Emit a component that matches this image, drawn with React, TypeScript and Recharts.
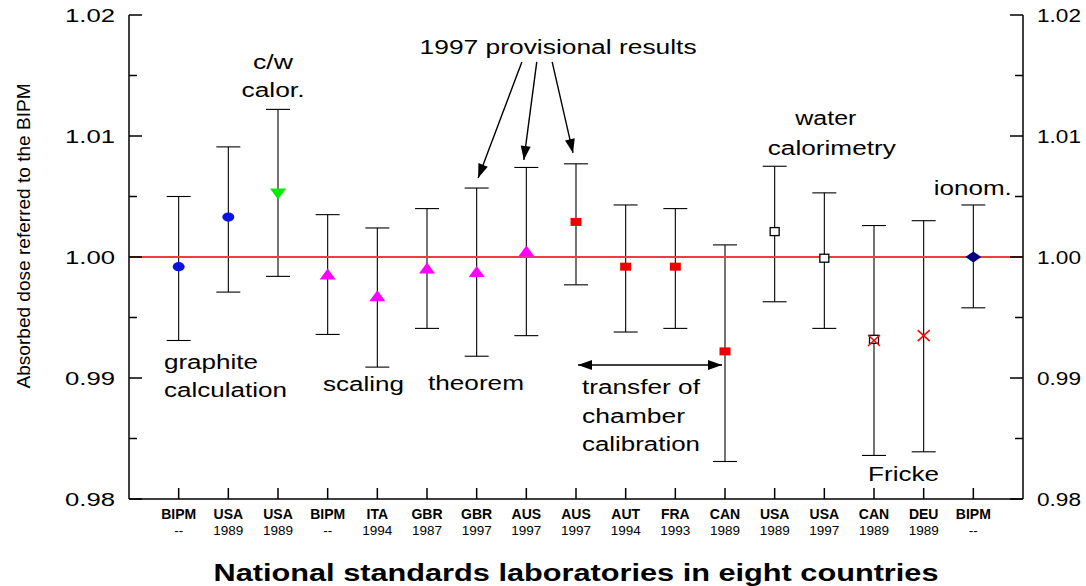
import React from 'react'
import {
  ComposedChart, Scatter, ErrorBar, XAxis, YAxis, ReferenceLine, ReferenceDot, Label,
} from 'recharts'

// Laboratories, in the order they are drawn along the x axis
const labs = ['BIPM', 'USA', 'USA', 'BIPM', 'ITA', 'GBR', 'GBR', 'AUS', 'AUS', 'AUT', 'FRA', 'CAN', 'USA', 'USA', 'CAN', 'DEU', 'BIPM']
const years = ['--', '1989', '1989', '--', '1994', '1987', '1997', '1997', '1997', '1994', '1993', '1989', '1989', '1997', '1989', '1989', '--']
// method of each result -> marker
const kinds = ['circle', 'circle', 'triDown', 'triUp', 'triUp', 'triUp', 'triUp', 'triUp', 'square', 'square', 'square', 'square', 'open', 'open', 'open', 'cross', 'diamond']

// ratio to BIPM and the ends of the uncertainty bars
const ratios = [0.9992, 1.0033, 1.0052, 0.9986, 0.9968, 0.9991, 0.9988, 1.0005, 1.0029, 0.9992, 0.9992, 0.9922, 1.0021, 0.9999, 0.9932, 0.9935, 1.0]
const lower = [0.9931, 0.9971, 0.9984, 0.9936, 0.9909, 0.9941, 0.9918, 0.9935, 0.9977, 0.9938, 0.9941, 0.9831, 0.9963, 0.9941, 0.9836, 0.9839, 0.9958]
const upper = [1.005, 1.0091, 1.0122, 1.0035, 1.0024, 1.004, 1.0057, 1.0074, 1.0077, 1.0043, 1.004, 1.001, 1.0075, 1.0053, 1.0026, 1.003, 1.0043]

// second (Fricke) result for CAN 1989
const extraCrossPos = [15]
const extraCrossRatio = [0.9931]

const yTicks = [0.98, 0.985, 0.99, 0.995, 1.0, 1.005, 1.01, 1.015, 1.02]
const yMajor = [0.98, 0.99, 1.0, 1.01, 1.02]
const xTicks = labs.map((_, i) => i + 1)

const FONT = '"Liberation Sans", Arial, sans-serif'

const rows = ratios.map((r, i) => ({ x: i + 1, y: r, err: [r - lower[i], upper[i] - r] }))
const byKind = (k: string) => rows.filter((p) => kinds[p.x - 1] === k)
const extraCross = extraCrossPos.map((x, i) => ({ x, y: extraCrossRatio[i] }))

const notes = [
  { t: 'c/w', x: 2.9, y: 1.01612, a: 'middle', len: 40 },
  { t: 'calor.', x: 2.9, y: 1.0138, a: 'middle', len: 63 },
  { t: '1997 provisional results', x: 8.64, y: 1.01736, a: 'middle', len: 277 },
  { t: 'water', x: 14.03, y: 1.01149, a: 'middle', len: 61 },
  { t: 'calorimetry', x: 14.15, y: 1.00901, a: 'middle', len: 128 },
  { t: 'ionom.', x: 16.99, y: 1.0057, a: 'middle', len: 78 },
  { t: 'graphite', x: 0.705, y: 0.99132, a: 'start', len: 94 },
  { t: 'calculation', x: 0.705, y: 0.98901, a: 'start', len: 123 },
  { t: 'scaling', x: 3.906, y: 0.9895, a: 'start', len: 81 },
  { t: 'theorem', x: 6.02, y: 0.98959, a: 'start', len: 96 },
  { t: 'transfer of', x: 9.12, y: 0.98926, a: 'start', len: 118 },
  { t: 'chamber', x: 9.12, y: 0.98686, a: 'start', len: 103 },
  { t: 'calibration', x: 9.12, y: 0.98455, a: 'start', len: 118 },
  { t: 'Fricke', x: 14.88, y: 0.98207, a: 'start', len: 71 },
]

const arrows = [
  { from: [7.91, 1.01612], to: [7.03, 1.00653], both: false },
  { from: [8.21, 1.01612], to: [7.95, 1.00802], both: false },
  { from: [8.52, 1.01612], to: [8.94, 1.0086], both: false },
  { from: [9.04, 0.99107], to: [11.94, 0.99107], both: true },
]

function head(x1: number, y1: number, x2: number, y2: number) {
  const a = Math.atan2(y2 - y1, x2 - x1)
  const L = 14, W = 5
  const bx = x2 - L * Math.cos(a), by = y2 - L * Math.sin(a)
  const px = -Math.sin(a) * W, py = Math.cos(a) * W
  return `${x2},${y2} ${bx + px},${by + py} ${bx - px},${by - py}`
}

const arrowShape = (both: boolean) => (p: any) => {
  const { x1, y1, x2, y2 } = p
  return (
    <g>
      <line x1={x1} y1={y1} x2={x2} y2={y2} stroke="#000" strokeWidth={1.4} />
      <polygon points={head(x1, y1, x2, y2)} fill="#000" />
      {both && <polygon points={head(x2, y2, x1, y1)} fill="#000" />}
    </g>
  )
}

const shapes: Record<string, (p: any) => React.ReactElement> = {
  circle: ({ cx, cy }) => <ellipse cx={cx} cy={cy} rx={6} ry={4.6} fill="#0a14e0" />,
  triDown: ({ cx, cy }) => <polygon points={`${cx - 8},${cy - 5.5} ${cx + 8},${cy - 5.5} ${cx},${cy + 5.5}`} fill="#00ee00" />,
  triUp: ({ cx, cy }) => <polygon points={`${cx - 8},${cy + 5.5} ${cx + 8},${cy + 5.5} ${cx},${cy - 5.5}`} fill="#ff00ff" />,
  square: ({ cx, cy }) => <rect x={cx - 5.5} y={cy - 4} width={11} height={8} fill="#ee0000" />,
  open: ({ cx, cy }) => <rect x={cx - 4.5} y={cy - 4} width={9} height={8} fill="#fff" stroke="#000" strokeWidth={1.3} />,
  cross: ({ cx, cy }) => (
    <g stroke="#ff0000" strokeWidth={1.5}>
      <line x1={cx - 6} y1={cy - 5.5} x2={cx + 6} y2={cy + 5.5} />
      <line x1={cx - 6} y1={cy + 5.5} x2={cx + 6} y2={cy - 5.5} />
    </g>
  ),
  diamond: ({ cx, cy }) => <polygon points={`${cx - 8},${cy} ${cx},${cy - 5.5} ${cx + 8},${cy} ${cx},${cy + 5.5}`} fill="#000080" />,
}

const isMajor = (v: number) => yMajor.some((m) => Math.abs(m - v) < 1e-6)

function LeftTick({ x, y, payload }: any) {
  const major = isMajor(payload.value)
  return (
    <g>
      <line x1={x} x2={x + (major ? 13 : 8)} y1={y} y2={y} stroke="#000" strokeWidth={1.5} />
      {major && (
        <text x={x - 14} y={y} textAnchor="end" dominantBaseline="central" fontSize={19} fontFamily={FONT}
          textLength={50} lengthAdjust="spacingAndGlyphs" fill="#000">{payload.value.toFixed(2)}</text>
      )}
    </g>
  )
}

function RightTick({ x, y, payload }: any) {
  const major = isMajor(payload.value)
  return (
    <g>
      <line x1={x} x2={x - (major ? 13 : 8)} y1={y} y2={y} stroke="#000" strokeWidth={1.5} />
      {major && (
        <text x={x + 14} y={y} textAnchor="start" dominantBaseline="central" fontSize={19} fontFamily={FONT}
          textLength={44} lengthAdjust="spacingAndGlyphs" fill="#000">{payload.value.toFixed(2)}</text>
      )}
    </g>
  )
}

function LabTick({ x, y, payload }: any) {
  const i = payload.value - 1
  return (
    <g fontFamily={FONT} fill="#000">
      <line x1={x} x2={x} y1={y} y2={y - 11} stroke="#000" strokeWidth={1.5} />
      <text x={x} y={y + 20} textAnchor="middle" fontWeight="bold" fontSize={14}>{labs[i]}</text>
      <text x={x} y={y + 36} textAnchor="middle" fontSize={13.5}>{years[i]}</text>
    </g>
  )
}

function XTitle({ viewBox }: any) {
  return (
    <text x={viewBox.x + viewBox.width / 2} y={viewBox.y + 82} textAnchor="middle" fontWeight="bold" fontSize={23}
      fontFamily={FONT} textLength={725} lengthAdjust="spacingAndGlyphs" fill="#000">
      National standards laboratories in eight countries
    </text>
  )
}

function YTitle() {
  return (
    <text x={0} y={0} transform="translate(23,236) rotate(-90)" textAnchor="middle" dominantBaseline="central"
      fontSize={19} fontFamily={FONT} textLength={305} lengthAdjust="spacingAndGlyphs" fill="#000">
      Absorbed dose referred to the BIPM
    </text>
  )
}

const noteShape = (n: typeof notes[number]) => (p: any) => (
  <text x={p.cx} y={p.cy} textAnchor={n.a as any} dominantBaseline="central" fontSize={20} fontFamily={FONT}
    textLength={n.len} lengthAdjust="spacingAndGlyphs" fill="#000">{n.t}</text>
)

export default function App() {
  return (
    <div style={{ position: 'absolute', left: 0, top: 0, width: 1086, height: 586, background: '#fff', fontFamily: FONT }}>
      <ComposedChart width={1086} height={586} margin={{ top: 15, right: 0, bottom: 0, left: 0 }}>
        <XAxis type="number" dataKey="x" domain={[0, 18]} ticks={xTicks} interval={0} height={87}
          tick={<LabTick />} tickLine={false} tickSize={0} tickMargin={0}
          axisLine={{ stroke: '#000', strokeWidth: 1.5 }} allowDataOverflow>
          <Label content={<XTitle />} />
        </XAxis>
        <YAxis yAxisId="l" type="number" domain={[0.98, 1.02]} ticks={yTicks} interval={0} width={129}
          tick={<LeftTick />} tickLine={false} tickSize={0} tickMargin={0}
          axisLine={{ stroke: '#000', strokeWidth: 1.5 }} allowDataOverflow>
          <Label content={<YTitle />} />
        </YAxis>
        <YAxis yAxisId="r" orientation="right" type="number" domain={[0.98, 1.02]} ticks={yTicks} interval={0} width={63}
          tick={<RightTick />} tickLine={false} tickSize={0} tickMargin={0}
          axisLine={{ stroke: '#000', strokeWidth: 1.5 }} allowDataOverflow />

        <Scatter yAxisId="l" data={rows} dataKey="y" shape={() => <g />} isAnimationActive={false}>
          <ErrorBar dataKey="err" direction="y" width={12} stroke="#000" strokeWidth={1.1} isAnimationActive={false} />
        </Scatter>

        <ReferenceLine yAxisId="l" y={1} stroke="#f23c3c" strokeWidth={2} />

        {Object.keys(shapes).map((k) => (
          <Scatter key={k} yAxisId="l" data={byKind(k)} dataKey="y" shape={shapes[k]} isAnimationActive={false} />
        ))}
        <Scatter yAxisId="l" data={extraCross} dataKey="y" shape={shapes.cross} isAnimationActive={false} />

        {arrows.map((a, i) => (
          <ReferenceLine key={'a' + i} yAxisId="l"
            segment={[{ x: a.from[0], y: a.from[1] }, { x: a.to[0], y: a.to[1] }]}
            shape={arrowShape(a.both)} />
        ))}
        {notes.map((n, i) => (
          <ReferenceDot key={'n' + i} yAxisId="l" x={n.x} y={n.y} r={0} shape={noteShape(n)} />
        ))}
      </ComposedChart>
    </div>
  )
}
